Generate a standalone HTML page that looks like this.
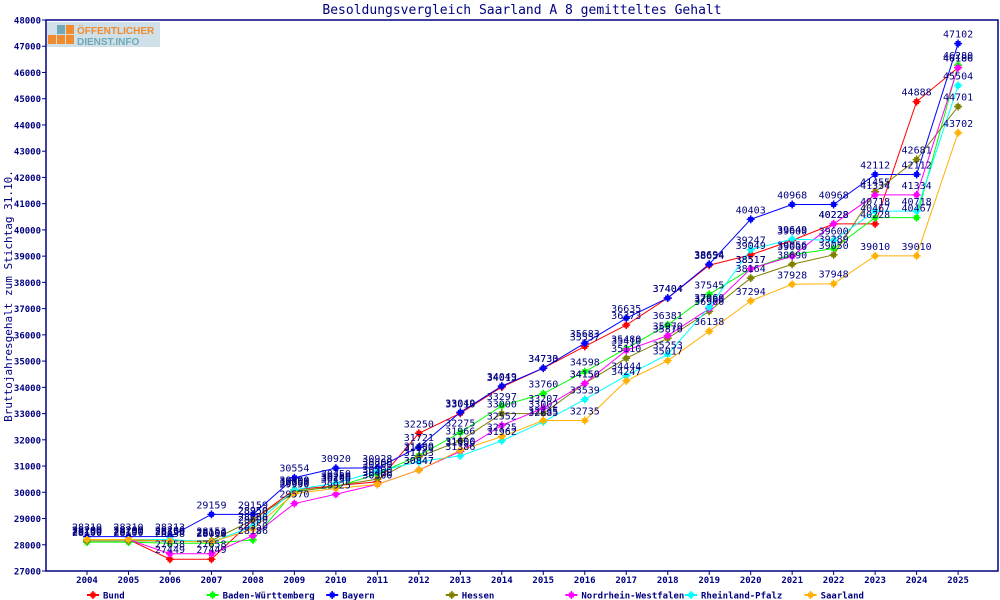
<!DOCTYPE html>
<html><head><meta charset="utf-8"><style>
body{margin:0;background:#fff;}
svg{display:block;font-family:"DejaVu Sans Mono","Liberation Mono",monospace;}
</style></head><body>
<svg id="chart" width="1000" height="600" viewBox="0 0 1000 600">
<text x="522" y="14" text-anchor="middle" font-size="13" fill="#000080">Besoldungsvergleich Saarland A 8 gemitteltes Gehalt</text>
<text transform="translate(12,296) rotate(-90)" text-anchor="middle" font-size="11" fill="#000080">Bruttojahresgehalt zum Stichtag 31.10.</text>
<g>
<rect x="47" y="22" width="113" height="25" fill="#cfe0e8"/>
<rect x="48" y="35" width="8" height="9" fill="#f28a2e"/><rect x="57" y="35" width="8" height="9" fill="#f28a2e"/><rect x="66" y="35" width="8" height="9" fill="#f28a2e"/>
<rect x="57" y="25" width="8" height="9" fill="#6fa9b8"/><rect x="66" y="25" width="8" height="9" fill="#f28a2e"/>
<text x="77" y="34" font-family="Liberation Sans, sans-serif" font-weight="bold" font-size="10" fill="#f28a2e">ÖFFENTLICHER</text>
<text x="77" y="45" font-family="Liberation Sans, sans-serif" font-weight="bold" font-size="10" fill="#6fa9b8">DIENST.INFO</text>
</g>
<g id="axes"></g><g id="series"></g><g id="legend"></g>
</svg>
<script>
const years=[2004,2005,2006,2007,2008,2009,2010,2011,2012,2013,2014,2015,2016,2017,2018,2019,2020,2021,2022,2023,2024,2025];
const yTicks=[27000,28000,29000,30000,31000,32000,33000,34000,35000,36000,37000,38000,39000,40000,41000,42000,43000,44000,45000,46000,47000,48000];
const seriesNames=["Bund","Baden-Württemberg","Bayern","Hessen","Nordrhein-Westfalen","Rheinland-Pfalz","Saarland"];
const seriesColors=["#ff0000","#00ff00","#0000ff","#808000","#ff00ff","#00ffff","#ffb000"];
const bund=[28200,28200,27449,27449,28950,30100,30250,30400,32250,33010,34013,34730,35557,36373,37404,38654,39049,39600,40228,40228,44888,46186];
const bw=[28100,28100,28058,28058,28186,30050,30200,30700,31400,32275,33297,33760,34598,35480,36381,37545,38517,39056,39289,40467,40467,46280];
const bayern=[28310,28310,28313,29159,29159,30554,30920,30928,31721,33049,34049,34733,35683,36635,37404,38694,40403,40968,40968,42112,42112,47102];
const hessen=[28150,28150,28150,28153,28950,30000,30250,30500,31350,31966,33000,33002,34150,35110,35870,36900,38164,38690,39050,41455,42681,44701];
const nrw=[28200,28200,27658,27658,28350,29570,29925,30300,30847,31556,32552,33207,34150,35410,35970,37000,38517,39000,40228,41334,41334,46186];
const rp=[28200,28200,28200,28100,28700,30100,30350,30800,31163,31386,31962,32685,33539,34444,35253,37060,39247,39649,39600,40718,40718,45504];
const saar=[28200,28200,28150,28100,28600,29950,30150,30300,30847,31600,32125,32735,32735,34247,35017,36138,37294,37928,37948,39010,39010,43702];
const allSeries=[bund,bw,bayern,hessen,nrw,rp,saar];
const NS="http://www.w3.org/2000/svg";
const L=46,R=998,T=20,B=571;
function xS(y){return 87+(y-2004)*41.48;}
function yS(v){return B-(v-27000)/21000*(B-T);}
function mk(tag,at,parent){const e=document.createElementNS(NS,tag);for(const k in at)e.setAttribute(k,at[k]);parent.appendChild(e);return e;}
const axes=document.getElementById('axes');
const frame=mk('rect',{x:L,y:T,width:R-L,height:B-T,fill:'none',stroke:'#000080','stroke-width':1.5},axes);


yTicks.forEach(v=>{const y=yS(v);
 mk('line',{x1:L-4,x2:L,y1:y,y2:y,stroke:'#000080'},axes);
 const t=mk('text',{x:L-5,y:y+3.5,'text-anchor':'end','font-size':9,'font-weight':'bold',fill:'#000080'},axes);t.textContent=v;
 
 });
years.forEach(yr=>{const x=xS(yr);
 mk('line',{x1:x,x2:x,y1:B,y2:B+4,stroke:'#000080'},axes);
 const t=mk('text',{x:x,y:B+12,'text-anchor':'middle','font-size':9,'font-weight':'bold',fill:'#000080'},axes);t.textContent=yr;
 
 });
function marker(g,x,y,c){mk('rect',{x:x-2.5,y:y-2.5,width:5,height:5,fill:c},g);mk('line',{x1:x-4,x2:x+4,y1:y,y2:y,stroke:c,'stroke-width':1.5},g);mk('line',{x1:x,x2:x,y1:y-4,y2:y+4,stroke:c,'stroke-width':1.5},g);}
const sg=document.getElementById('series');
allSeries.forEach((data,i)=>{const g=mk('g',{},sg);
 
 
 const pts=data.map((v,j)=>xS(years[j])+','+yS(v)).join(' ');
 mk('polyline',{points:pts,fill:'none',stroke:seriesColors[i],'stroke-width':1},g);
 data.forEach((v,j)=>{marker(g,xS(years[j]),yS(v),seriesColors[i]);});});
allSeries.forEach((data,i)=>{data.forEach((v,j)=>{
 const t=mk('text',{x:xS(years[j]),y:yS(v)-6,'text-anchor':'middle','font-size':10,fill:'#000080'},sg);t.textContent=v;
 
 });});
const lg=document.getElementById('legend');
seriesNames.forEach((n,i)=>{const x=88+i*119.6,y=595;const g=mk('g',{},lg);
 
 
 mk('line',{x1:x-1,x2:x+11,y1:y,y2:y,stroke:seriesColors[i],'stroke-width':2},g);
 marker(g,x+5,y,seriesColors[i]);
 const t=mk('text',{x:x+15,y:y+3.5,'font-size':9,'font-weight':'bold',fill:'#000080'},g);t.textContent=n;});
</script>
</body></html>
